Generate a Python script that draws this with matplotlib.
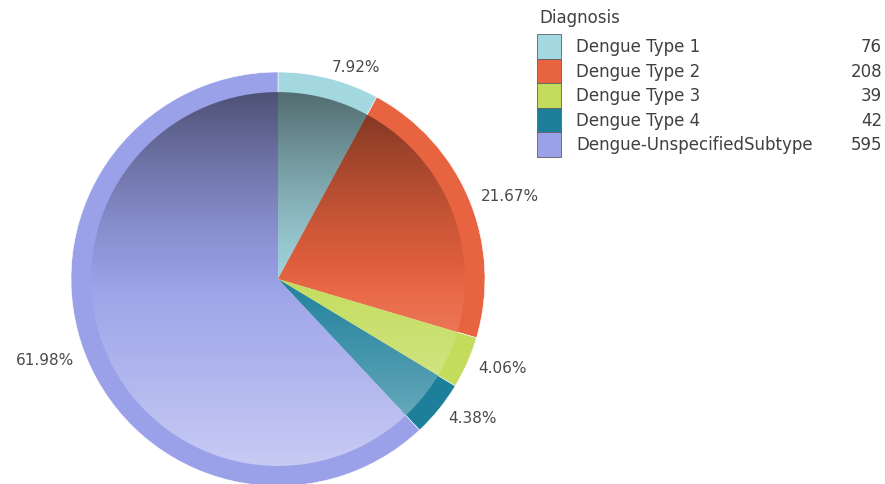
import numpy as np
import matplotlib
matplotlib.use("Agg")
import matplotlib.pyplot as plt
from matplotlib.patches import Circle, Rectangle

# ---- data ----
categories = ["Dengue Type 1", "Dengue Type 2", "Dengue Type 3", "Dengue Type 4",
              "Dengue-UnspecifiedSubtype"]
counts = [76, 208, 39, 42, 595]
colors = ["#a4d8e1", "#e8633f", "#c3dc5c", "#1d7f9a", "#9ba1e9"]
legend_title = "Diagnosis"

W, H = 885, 485
fig = plt.figure(figsize=(W / 100, H / 100), dpi=100)
fig.patch.set_facecolor("white")

# pie axes: centre (278, 280) px, radius 207 px
cx, cy, R = 278, 280, 207
ax = fig.add_axes([(cx - R) / W, (H - cy - R) / H, 2 * R / W, 2 * R / H])
ax.set_axis_off()

total = sum(counts)
wedges, _ = ax.pie(counts, colors=colors, startangle=90, counterclock=False,
                   radius=1.0, wedgeprops=dict(edgecolor="white", linewidth=0.4))
r_in = 0.903
inner, _ = ax.pie(counts, colors=colors, startangle=90, counterclock=False,
                  radius=r_in, wedgeprops=dict(edgecolor="none", linewidth=0))

# gradient overlays on inner disk: dark top, light bottom (smooth)
n = 400
t = np.linspace(0, 1, n)[:, None]  # 0 top, 1 bottom
dark = np.zeros((n, 2, 4))
dark[..., 3] = np.broadcast_to(0.5 * np.clip(1 - t / 0.55, 0, 1) ** 1.3, (n, 2))
light = np.ones((n, 2, 4))
light[..., 3] = np.broadcast_to(0.45 * np.clip((t - 0.45) / 0.55, 0, 1) ** 1.2, (n, 2))
for img in (dark, light):
    im = ax.imshow(img, extent=(-r_in, r_in, -r_in, r_in), origin="upper",
                   aspect="auto", zorder=3, interpolation="bilinear")
    im.set_clip_path(Circle((0, 0), r_in, transform=ax.transData))
ax.set_xlim(-1, 1)
ax.set_ylim(-1, 1)
ax.set_aspect("auto")

# percentage labels
cum = 0.0
for v in counts:
    frac = v / total
    mid = np.deg2rad(90 - 360 * (cum + frac / 2))
    cum += frac
    rl = 1.06
    x, y = rl * np.cos(mid), rl * np.sin(mid)
    ha = "left" if x >= 0 else "right"
    ax.text(x, y, f"{frac * 100:.2f}%", ha=ha, va="center", fontsize=11,
            color="#4a4a4a", clip_on=False, zorder=5)

# legend (figure pixel coords)
def fx(px):
    return px / W

def fy(py):
    return 1 - py / H

fs = 12
fig.text(fx(539), fy(18), legend_title, ha="left", va="center", fontsize=fs,
         color="#404040")
row_h = 24.5
y0 = 35
for i, (lab, val, c) in enumerate(zip(categories, counts, colors)):
    top_y = y0 + i * row_h
    fig.patches.append(Rectangle((fx(537), fy(top_y + row_h)), 24 / W, row_h / H,
                                 transform=fig.transFigure, facecolor=c,
                                 edgecolor="#606060", linewidth=0.6))
    yc = fy(top_y + row_h / 2)
    fig.text(fx(576), yc, lab, ha="left", va="center", fontsize=fs, color="#404040")
    fig.text(fx(882), yc, str(val), ha="right", va="center", fontsize=fs,
             color="#404040")

fig.savefig("out.png", dpi=100, facecolor="white")
